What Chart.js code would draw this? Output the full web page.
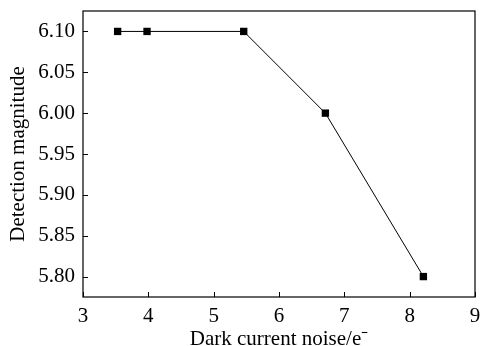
<!DOCTYPE html>
<html><head><meta charset="utf-8">
<script src="https://cdn.jsdelivr.net/npm/chart.js@4"></script>
<style>html,body{margin:0;padding:0;background:#fff}#wrap{width:482px;height:346px}</style>
</head><body><div id="wrap"><canvas id="c" width="482" height="346"></canvas></div>
<script>
const darkNoise = [3.53, 3.98, 5.46, 6.71, 8.21];
const detectionMag = [6.10, 6.10, 6.10, 6.00, 5.80];
const xTicks = [3, 4, 5, 6, 7, 8, 9];
const yTicks = [5.80, 5.85, 5.90, 5.95, 6.00, 6.05, 6.10];
const xTitle = 'Dark current noise/e\u207B';
const yTitle = 'Detection magnitude';

const FONT = "'Liberation Serif', 'Times New Roman', serif";

const frame = {
  id: 'frame',
  afterDraw(chart) {
    const {ctx, chartArea: a, scales} = chart;
    ctx.save();
    ctx.strokeStyle = '#000';
    ctx.lineWidth = 1.2;
    ctx.strokeRect(a.left, a.top, a.right - a.left, a.bottom - a.top);
    ctx.lineWidth = 1;
    ctx.beginPath();
    scales.x.ticks.forEach(t => {
      const px = Math.round(scales.x.getPixelForValue(t.value)) + 0.5;
      ctx.moveTo(px, a.bottom); ctx.lineTo(px, a.bottom - 5);
    });
    scales.y.ticks.forEach(t => {
      const py = Math.round(scales.y.getPixelForValue(t.value)) + 0.5;
      ctx.moveTo(a.left, py); ctx.lineTo(a.left + 5, py);
    });
    ctx.stroke();
    ctx.restore();
  }
};

new Chart(document.getElementById('c'), {
  type: 'scatter',
  data: {
    datasets: [{
      data: darkNoise.map((x, i) => ({x, y: detectionMag[i]})),
      showLine: true,
      borderColor: '#000',
      borderWidth: 1,
      backgroundColor: '#000',
      pointStyle: 'rect',
      pointRadius: 5.2,
      pointHoverRadius: 5.2,
      pointBorderWidth: 0
    }]
  },
  options: {
    responsive: false,
    animation: false,
    events: [],
    layout: {padding: {top: 11, right: 7, left: 0, bottom: 0}},
    plugins: {legend: {display: false}, tooltip: {enabled: false}},
    scales: {
      x: {
        type: 'linear', min: 3, max: 9,
        afterBuildTicks: s => { s.ticks = xTicks.map(v => ({value: v})); },
        afterFit: s => { s.height = 49; s.paddingLeft = 0; s.paddingRight = 0; },
        grid: {display: false, drawTicks: false},
        border: {display: false},
        ticks: {color: '#000', font: {family: FONT, size: 21}, padding: 7, maxRotation: 0,
                callback: v => String(v)},
        title: {display: true, text: xTitle, color: '#000', font: {family: FONT, size: 21}, padding: {top: 0, bottom: -6}}
      },
      y: {
        type: 'linear', min: 5.775, max: 6.125,
        afterBuildTicks: s => { s.ticks = yTicks.map(v => ({value: v})); },
        afterFit: s => { s.width = 83; s.paddingTop = 0; s.paddingBottom = 0; },
        grid: {display: false, drawTicks: false},
        border: {display: false},
        ticks: {color: '#000', font: {family: FONT, size: 21}, padding: 8,
                callback: v => Number(v).toFixed(2)},
        title: {display: true, text: yTitle, color: '#000', font: {family: FONT, size: 21}, padding: {top: 6, bottom: 0}}
      }
    }
  },
  plugins: [frame]
});
</script></body></html>
